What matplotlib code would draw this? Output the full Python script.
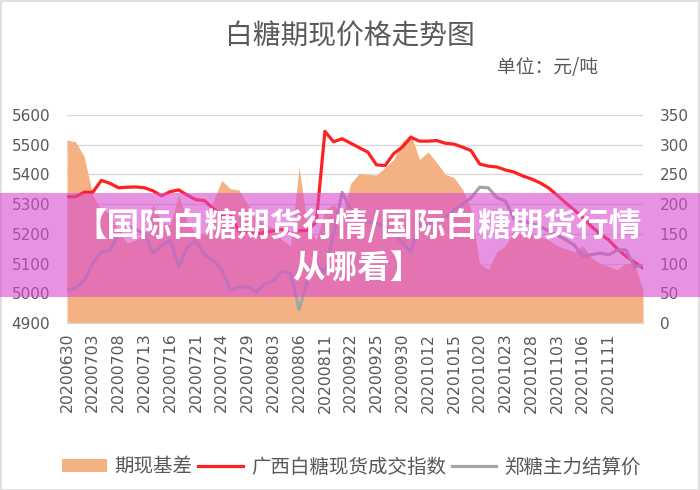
import matplotlib
matplotlib.use('Agg')
import matplotlib.pyplot as plt
from matplotlib.patches import Rectangle

plt.rcParams['font.family'] = ['Noto Sans CJK SC', 'DejaVu Sans']

# 日期（每三个显示一个）
dates = ['20200630', '20200701', '20200702', '20200703', '20200706', '20200707', '20200708',
         '20200709', '20200710', '20200713', '20200714', '20200715', '20200716', '20200717',
         '20200720', '20200721', '20200722', '20200723', '20200724', '20200727', '20200728',
         '20200729', '20200730', '20200731', '20200803', '20200804', '20200805', '20200806',
         '20200807', '20200810', '20200811', '20200918', '20200921', '20200922', '20200923',
         '20200924', '20200925', '20200928', '20200929', '20200930', '20201009', '20201010',
         '20201012', '20201013', '20201014', '20201015', '20201016', '20201019', '20201020',
         '20201021', '20201022', '20201023', '20201026', '20201027', '20201028', '20201029',
         '20201030', '20201103', '20201104', '20201105', '20201106', '20201109', '20201110',
         '20201111', '20201112', '20201113', '20201116', '20201117']

# 广西白糖现货成交指数（左轴）
spot = [5325, 5325, 5340, 5340, 5380, 5370, 5355, 5357, 5358, 5355,
        5345, 5328, 5342, 5348, 5330, 5315, 5312, 5285, 5265, 5262,
        5210, 5205, 5200, 5205, 5210, 5215, 5200, 5210, 5212, 5240,
        5545, 5510, 5520, 5505, 5490, 5475, 5432, 5430, 5470, 5492,
        5525, 5512, 5512, 5514, 5505, 5502, 5492, 5480, 5435, 5428,
        5425, 5415, 5408, 5395, 5385, 5372, 5355, 5330, 5305, 5280,
        5255, 5225, 5200, 5180, 5150, 5125, 5105, 5085]

# 郑糖主力结算价（左轴）
futures = [5011, 5017, 5044, 5100, 5140, 5145, 5200, 5225, 5215, 5200,
           5135, 5160, 5180, 5090, 5156, 5175, 5130, 5110, 5080, 5011,
           5020, 5022, 5005, 5030, 5042, 5075, 5068, 4945, 5045, 5100,
           5070, 5200, 5340, 5280, 5253, 5240, 5235, 5225, 5200, 5170,
           5140, 5236, 5230, 5240, 5255, 5280, 5300, 5321, 5357, 5355,
           5322, 5310, 5250, 5245, 5235, 5225, 5210, 5196, 5180, 5162,
           5125, 5130, 5135, 5130, 5145, 5146, 5089, 5095]

# 期现基差（右轴）
basis = [308, 305, 280, 215, 190, 185, 155, 135, 140, 150,
         200, 170, 165, 215, 170, 150, 150, 205, 240, 226,
         224, 200, 180, 165, 160, 140, 130, 262, 160, 140,
         190, 200, 180, 235, 252, 250, 249, 262, 275, 305,
         318, 275, 288, 270, 250, 245, 225, 190, 100, 90,
         120, 130, 155, 150, 150, 145, 140, 130, 125, 120,
         130, 110, 100, 95, 90, 100, 100, 55]

x = list(range(len(dates)))
grijs = '#595959'

fig = plt.figure(figsize=(7, 4.9), dpi=100)
ax = fig.add_axes([0.0957, 0.3408, 0.8229, 0.4245])
ax2 = ax.twinx()

# 基差面积画在副轴上，放在折线后面
ax2.fill_between(x, 0, basis, color='#F4B183', linewidth=0, label='期现基差')
ax2.set_ylim(0, 350)
ax2.set_yticks(range(0, 351, 50))
ax2.grid(axis='y', color='#D9D9D9', linewidth=1)
ax2.set_axisbelow(True)

ax.plot(x, spot, color='#FF2020', linewidth=2.3, label='广西白糖现货成交指数')
ax.plot(x, futures, color='#A5A5A5', linewidth=2.3, label='郑糖主力结算价')
ax.set_ylim(4900, 5600)
ax.set_yticks(range(4900, 5601, 100))
ax.set_xlim(0, len(dates) - 1)
ax.set_zorder(ax2.get_zorder() + 1)
ax.patch.set_visible(False)

ax.set_xticks(x[0:64:3])
ax.set_xticklabels(dates[0:64:3], rotation=90, family='DejaVu Sans', fontsize=11.3, color=grijs)
for lab in ax.get_yticklabels():
    lab.set_family('DejaVu Sans')
for lab in ax2.get_yticklabels():
    lab.set_family('DejaVu Sans')
ax.tick_params(axis='y', length=0, labelsize=11, labelcolor=grijs, pad=12)
ax2.tick_params(axis='y', length=0, labelsize=11, labelcolor=grijs, pad=12)
ax.tick_params(axis='x', length=0, pad=7)

for a in (ax, ax2):
    for s in ('top', 'left', 'right'):
        a.spines[s].set_visible(False)
    a.spines['bottom'].set_color('#D9D9D9')

fig.text(0.5, 0.926, '白糖期现价格走势图', ha='center', va='center', fontsize=20, color=grijs)
fig.text(0.71, 0.863, '单位：元/吨', ha='left', va='center', fontsize=13.5, color=grijs)

h2, l2 = ax2.get_legend_handles_labels()
h1, l1 = ax.get_legend_handles_labels()
fig.legend(h2 + h1, l2 + l1, loc='center', bbox_to_anchor=(0.502, 0.047), ncol=3, frameon=False,
           fontsize=14, labelcolor=grijs, handlelength=2.3, handletextpad=0.4, columnspacing=0.3)

# 边框
fig.add_artist(Rectangle((0.001, 0.001), 0.997, 0.997, transform=fig.transFigure,
                         fill=False, edgecolor='#D9D9D9', linewidth=1.2))

# 粉色横幅
fig.add_artist(Rectangle((0, 0.394), 1, 0.212, transform=fig.transFigure,
                         facecolor='#D94CD0', alpha=0.6, edgecolor='none', zorder=10))
fig.text(0.512, 0.538, '【国际白糖期货行情/国际白糖期货行情', ha='center', va='center',
         fontsize=23.5, fontweight='bold', color='white', zorder=11)
fig.text(0.51, 0.452, '从哪看】', ha='center', va='center',
         fontsize=23.5, fontweight='bold', color='white', zorder=11)

fig.savefig('out.png', dpi=100)
